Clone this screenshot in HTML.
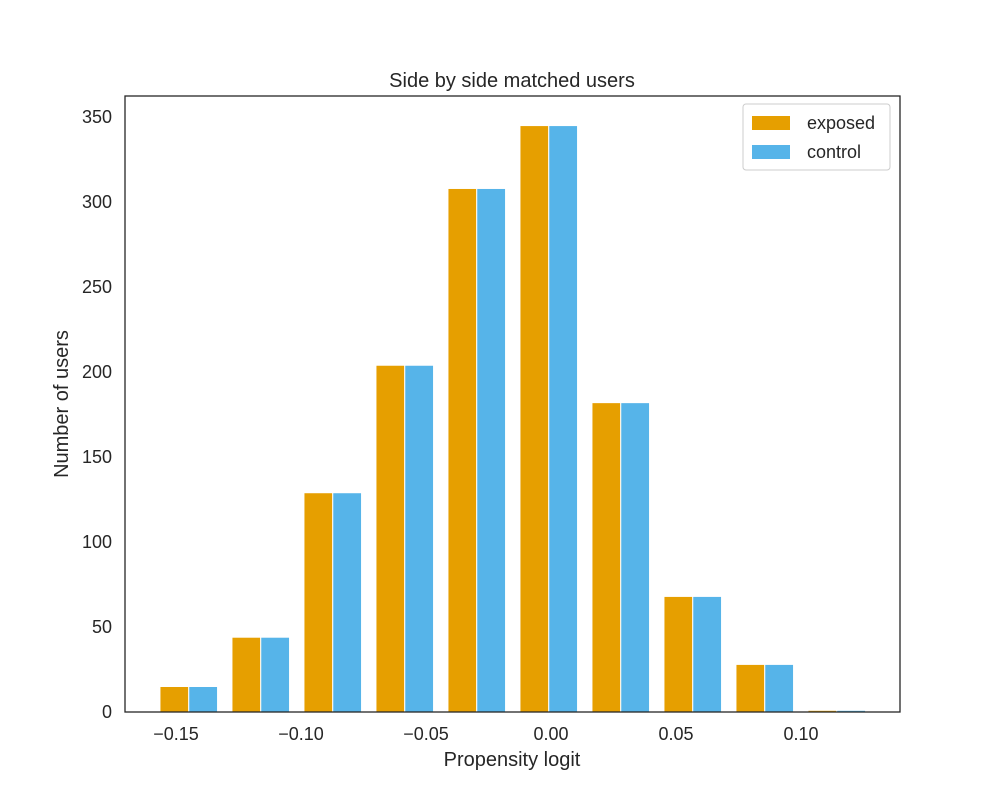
<!DOCTYPE html>
<html><head><meta charset="utf-8"><style>
body{margin:0;background:#fff;font-family:"Liberation Sans",sans-serif}
</style></head><body>
<svg id="chart" width="1000" height="800" xmlns="http://www.w3.org/2000/svg" font-family="Liberation Sans, sans-serif" fill="#262626"></svg>
<script>
const binEdges=[-0.1593,-0.1305,-0.1017,-0.0729,-0.0441,-0.0153,0.0135,0.0423,0.0711,0.0999,0.1287];
const exposedCounts=[15,44,129,204,308,345,182,68,28,1];
const controlCounts=[15,44,129,204,308,345,182,68,28,1];
const xTicks=[-0.15,-0.10,-0.05,0.00,0.05,0.10];
const xTickLabels=["\u22120.15","\u22120.10","\u22120.05","0.00","0.05","0.10"];
const yTicks=[0,50,100,150,200,250,300,350];

const L=125,R=900,T=96,B=712;
const xMin=-0.1704,xMax=0.1396,yMax=362.4;
const sx=v=>L+(v-xMin)/(xMax-xMin)*(R-L);
const sy=v=>B-v/yMax*(B-T);
const svg=document.getElementById('chart');
const NS='http://www.w3.org/2000/svg';
function mk(tag,attrs,text){const e=document.createElementNS(NS,tag);for(const k in attrs)e.setAttribute(k,attrs[k]);if(text!=null)e.textContent=text;svg.appendChild(e);return e;}

for(let i=0;i<exposedCounts.length;i++){
  const x0=sx(binEdges[i]),x1=sx(binEdges[i+1]),w=x1-x0;
  const bw=w*0.4;
  const a=mk('rect',{x:x0+w*0.1,y:sy(exposedCounts[i]),width:bw,height:B-sy(exposedCounts[i]),fill:'#e69f00',stroke:'#fff','stroke-width':1});
  
  
  const b=mk('rect',{x:x0+w*0.5,y:sy(controlCounts[i]),width:bw,height:B-sy(controlCounts[i]),fill:'#56b4e9',stroke:'#fff','stroke-width':1});
  
  
}
const frame=mk('rect',{x:L,y:T,width:R-L,height:B-T,fill:'none',stroke:'#262626','stroke-width':1.3});


xTicks.forEach((v,i)=>{
  const t=mk('text',{x:sx(v),y:740,'text-anchor':'middle','font-size':18},xTickLabels[i]);
  
  
});
yTicks.forEach(v=>{
  const t=mk('text',{x:112,y:sy(v)+6,'text-anchor':'end','font-size':18},String(v));
  
  
});
const xt=mk('text',{x:512,y:766,'text-anchor':'middle','font-size':20},'Propensity logit');


const yt=mk('text',{x:0,y:0,'text-anchor':'middle','font-size':20,transform:'translate(68,404) rotate(-90)'},'Number of users');


const tt=mk('text',{x:512,y:87,'text-anchor':'middle','font-size':20},'Side by side matched users');


const lg=mk('rect',{x:743,y:104,width:147,height:66,rx:3,fill:'#fff',stroke:'#cccccc','stroke-width':1});


const l1=mk('rect',{x:752,y:116,width:38,height:14,fill:'#e69f00'});


const l1t=mk('text',{x:807,y:129,'font-size':18},'exposed');


const l2=mk('rect',{x:752,y:145,width:38,height:14,fill:'#56b4e9'});


const l2t=mk('text',{x:807,y:158,'font-size':18},'control');


</script>
</body></html>
